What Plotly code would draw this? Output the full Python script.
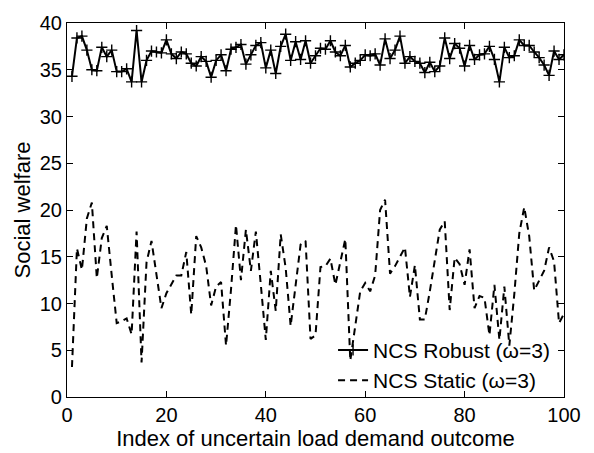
import plotly.graph_objects as go

# Outcome index (1..100)
outcome_index = list(range(1, 101))

# Social welfare under the robust NCS scheme
robust_welfare = [
    34.3, 38.4, 38.6, 37.1, 35.0, 34.9, 37.4, 36.4, 37.1, 34.8,
    34.8, 35.1, 33.7, 39.2, 33.7, 36.0, 37.0, 36.9, 36.8, 38.2,
    36.7, 36.2, 36.9, 36.7, 35.7, 35.4, 36.4, 35.9, 34.2, 36.0,
    36.6, 34.9, 37.2, 37.4, 37.7, 35.6, 36.6, 37.6, 37.9, 35.2,
    37.1, 34.6, 37.5, 38.8, 36.0, 38.0, 36.1, 38.1, 35.7, 36.5,
    37.3, 37.2, 38.1, 36.9, 36.5, 37.6, 35.3, 35.7, 36.0, 36.6,
    36.5, 36.7, 35.5, 38.3, 36.2, 37.1, 38.6, 35.7, 36.4, 35.9,
    35.7, 34.7, 35.8, 34.8, 35.4, 38.4, 36.2, 37.8, 37.3, 35.4,
    37.6, 36.1, 36.6, 36.7, 37.5, 36.1, 33.7, 37.4, 36.3, 36.5,
    38.2, 37.6, 37.6, 36.9, 36.3, 35.5, 34.4, 37.0, 36.1, 36.6,
]

# Social welfare under the static NCS scheme
static_welfare = [
    3.2, 15.9, 13.6, 19.1, 20.8, 12.7, 17.0, 18.3, 13.0, 7.9,
    8.1, 8.4, 6.7, 17.7, 3.7, 14.4, 16.7, 13.0, 9.5, 11.1,
    12.0, 13.0, 13.0, 15.5, 8.8, 17.2, 16.0, 14.0, 9.8, 11.8,
    12.3, 5.5, 11.5, 18.4, 12.5, 17.9, 13.5, 17.7, 12.0, 6.1,
    13.5, 9.2, 17.4, 13.8, 7.6, 12.3, 16.3, 16.7, 6.2, 6.6,
    13.9, 14.0, 14.8, 12.0, 14.5, 16.9, 3.9, 7.5, 11.3, 12.2,
    11.3, 13.0, 20.0, 21.1, 13.2, 14.0, 15.0, 16.0, 10.7, 14.1,
    8.3, 8.3, 11.3, 14.5, 17.9, 18.8, 9.3, 14.9, 14.2, 12.0,
    15.8, 9.5, 10.8, 10.6, 6.6, 12.0, 6.1, 11.8, 5.5, 11.0,
    17.5, 20.3, 17.2, 11.4, 12.5, 13.5, 16.0, 14.5, 7.9, 8.9,
]

x_ticks = [0, 20, 40, 60, 80, 100]
y_ticks = [0, 5, 10, 15, 20, 25, 30, 35, 40]

font_family = "Liberation Sans, Arial, Helvetica, sans-serif"

fig = go.Figure()

fig.add_trace(go.Scatter(
    x=outcome_index, y=robust_welfare,
    mode="lines+markers",
    name="NCS Robust (\u03c9=3)",
    line=dict(color="black", width=2),
    marker=dict(symbol="cross-thin", size=8, line=dict(color="black", width=1.4)),
))

fig.add_trace(go.Scatter(
    x=outcome_index, y=static_welfare,
    mode="lines",
    name="NCS Static (\u03c9=3)",
    line=dict(color="black", width=2, dash="7px,5px"),
))

axis_common = dict(
    showgrid=False, zeroline=False,
    showline=True, linecolor="black", linewidth=1.2,
    mirror="ticks", ticks="inside", ticklen=6, tickwidth=1,
    tickcolor="black",
    tickfont=dict(family=font_family, size=20, color="black"),
)

fig.update_layout(
    width=594, height=453,
    margin=dict(l=67, r=30, t=14, b=45),
    paper_bgcolor="white", plot_bgcolor="white",
    font=dict(family=font_family, size=20, color="black"),
    showlegend=True,
    legend=dict(
        x=0.982, y=-0.01, xanchor="right", yanchor="bottom",
        bgcolor="rgba(0,0,0,0)", borderwidth=0,
        font=dict(family=font_family, size=21, color="black"),
        itemwidth=30, tracegroupgap=0,
    ),
    xaxis=dict(
        range=[0, 100], tickvals=x_ticks,
        title=dict(text="Index of uncertain load demand outcome", standoff=0,
                   font=dict(family=font_family, size=22)),
        **axis_common,
    ),
    yaxis=dict(
        range=[0, 40], tickvals=y_ticks,
        title=dict(text="Social welfare", standoff=2,
                   font=dict(family=font_family, size=22)),
        **axis_common,
    ),
)

fig.write_html("out.html")
